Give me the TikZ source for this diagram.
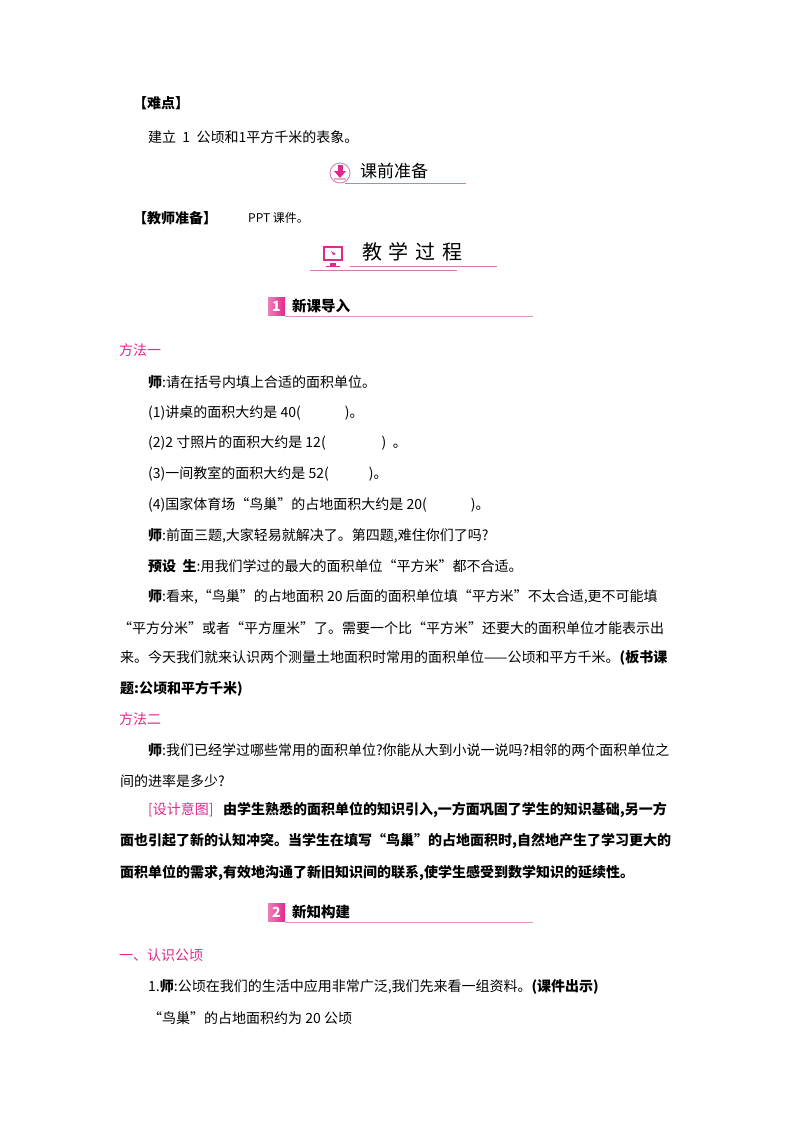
\documentclass[tikz,border=0pt]{standalone}
\usepackage{fontspec}
\setmainfont{Noto Sans CJK SC}
\definecolor{pk}{RGB}{226,40,140}
\definecolor{lpk}{RGB}{214,120,170}
\begin{document}
\begin{tikzpicture}[x=1pt,y=-1pt,
  t/.style={anchor=west,inner sep=0pt,font=\fontsize{14}{14}\selectfont},
  b/.style={t,font=\fontsize{14}{14}\selectfont\bfseries},
  p/.style={t,text=pk},
  hl/.style={draw=lpk,line width=0.8pt}]
\useasboundingbox (0,0) rectangle (800,1132);
\fill[white] (0,0) rectangle (800,1132);
\node[b] (n1) at (133,103) {【难点】};
\node[t] (n2) at (148,137) {建立\ \ 1\ \ 公顷和1平方千米的表象。};
% ke qian zhun bei
\draw[lpk,line width=0.8pt,fill=white] (340,173) circle (10);
\fill[pk] (337.5,165) rectangle (342.5,172);
\fill[pk] (334,171) -- (346,171) -- (340,178) -- cycle;
\fill[lpk!60] (334,178) rectangle (346,180);
\node[t,font=\fontsize{17}{18}\selectfont] (h1) at (360,171) {课前准备};
\draw[hl] (345,183) -- (466,183);
\node[b] (n3) at (133,218) {【教师准备】};
\node[t,font=\fontsize{12}{13}\selectfont] (n4) at (248,218) {PPT 课件。};
% jiao xue guo cheng
\draw[pk,line width=2.5pt] (324,247) rectangle (342,260);
\fill[white] (326,249) rectangle (340,258);
\fill[pk] (331,251) -- (336,254) -- (333,255) -- cycle;
\fill[pk] (330,263) rectangle (336,266);
\fill[pk] (326,265.5) rectangle (340,267);
\node[t,font=\fontsize{20}{20}\selectfont] (h2) at (362,252) {教\,\,学\,\,过\,\,程};
\draw[hl] (350,266) -- (497,266);
\draw[hl] (310,270) -- (457,270);
% section 1
\shade[left color=pk!60,right color=pk] (268,297) rectangle (285,315);
\node[text=white,font=\bfseries\itshape\fontsize{14}{14}\selectfont,inner sep=0pt] (s1n) at (276.5,306) {1};
\node[b,font=\fontsize{14.5}{15}\selectfont\bfseries] (s1) at (292,306) {新课导入};
\draw[hl,draw=lpk!80] (285,316) -- (533,316);
\node[p] (m1) at (119,350) {方法一};
\node[t] (l1) at (148,382) {\textbf{师}:请在括号内填上合适的面积单位。};
\node[t] (l2) at (148,413) {(1)讲桌的面积大约是 40(\hspace{44pt})。};
\node[t] (l3) at (148,443) {(2)2 寸照片的面积大约是 12(\hspace{56pt})\ \ 。};
\node[t] (l4) at (148,474) {(3)一间教室的面积大约是 52(\hspace{40pt})。};
\node[t] (l5) at (148,505) {(4)国家体育场“鸟巢”的占地面积大约是 20(\hspace{44pt})。};
\node[t] (l6) at (148,536) {\textbf{师}:前面三题,大家轻易就解决了。第四题,难住你们了吗?};
\node[t] (l7) at (148,566) {\textbf{预设\ \ 生}:用我们学过的最大的面积单位“平方米”都不合适。};
\node[t] (l8) at (148,597) {\textbf{师}:看来,“鸟巢”的占地面积 20 后面的面积单位填“平方米”不太合适,更不可能填};
\node[t] (l9) at (118,628) {“平方分米”或者“平方厘米”了。需要一个比“平方米”还要大的面积单位才能表示出};
\node[t] (l10) at (120,658) {来。今天我们就来认识两个测量土地面积时常用的面积单位——公顷和平方千米。\textbf{(板书课}};
\node[b] (l11) at (120,689) {题:公顷和平方千米)};
\node[p] (m2) at (119,719) {方法二};
\node[t] (l12) at (148,750) {\textbf{师}:我们已经学过哪些常用的面积单位?你能从大到小说一说吗?相邻的两个面积单位之};
\node[t] (l13) at (120,781) {间的进率是多少?};
\node[t] (l14) at (148,810) {\textcolor{pk}{[设计意图]}\ \ \ \textbf{由学生熟悉的面积单位的知识引入,一方面巩固了学生的知识基础,另一方}};
\node[b] (l15) at (120,841) {面也引起了新的认知冲突。当学生在填写“鸟巢”的占地面积时,自然地产生了学习更大的};
\node[b] (l16) at (120,873) {面积单位的需求,有效地沟通了新旧知识间的联系,使学生感受到数学知识的延续性。};
% section 2
\shade[left color=pk!60,right color=pk] (268,903) rectangle (285,921);
\node[text=white,font=\bfseries\itshape\fontsize{14}{14}\selectfont,inner sep=0pt] (s2n) at (276.5,912) {2};
\node[b,font=\fontsize{14.5}{15}\selectfont\bfseries] (s2) at (292,912) {新知构建};
\draw[hl,draw=lpk!80] (285,922) -- (533,922);
\node[p] (m3) at (119,955) {一、认识公顷};
\node[t] (l17) at (148,987) {1.\textbf{师}:公顷在我们的生活中应用非常广泛,我们先来看一组资料。\textbf{(课件出示)}};
\node[t] (l18) at (148,1018) {“鸟巢”的占地面积约为 20 公顷};
\end{tikzpicture}
\end{document}
